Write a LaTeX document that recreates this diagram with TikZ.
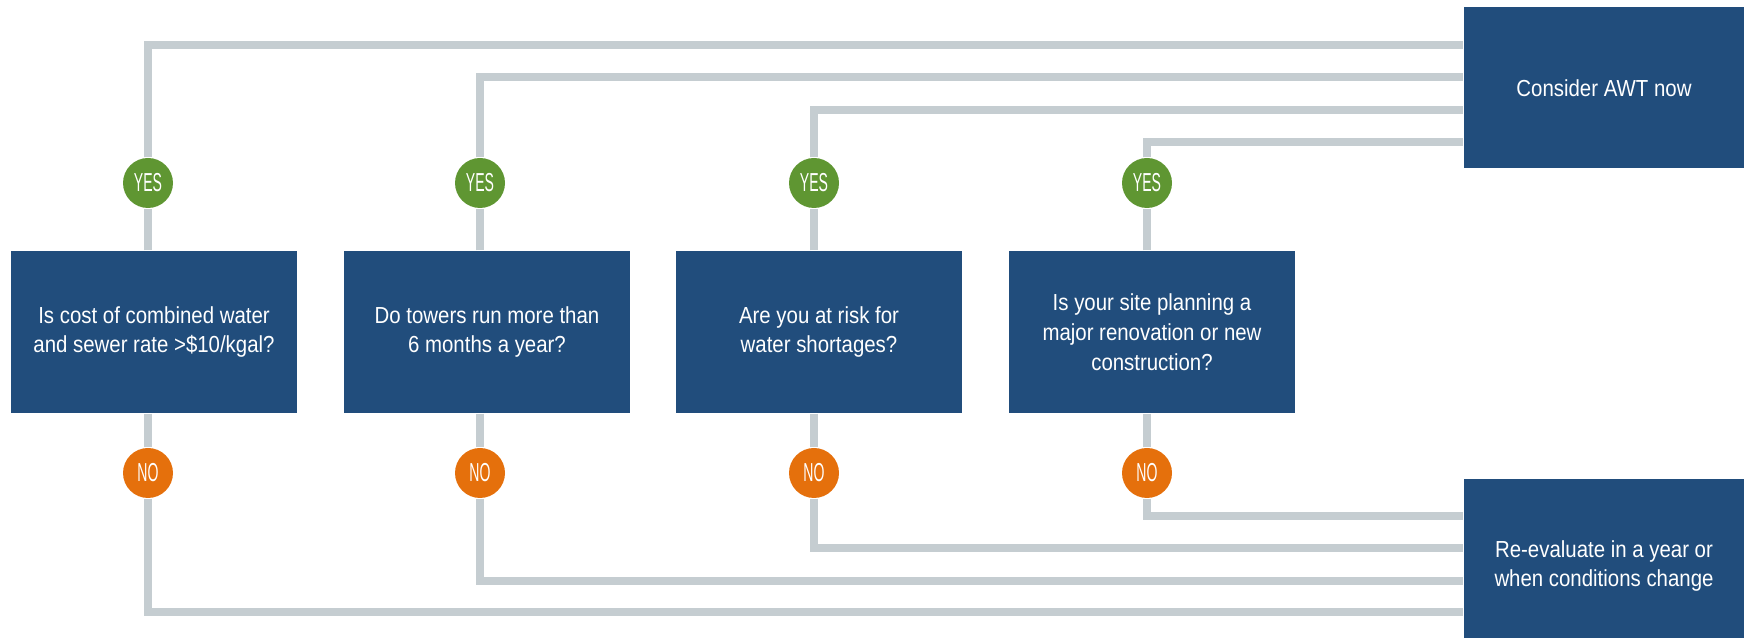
\documentclass[tikz,border=0pt]{standalone}
\usepackage{fontspec}
\setmainfont{Liberation Sans}[FakeStretch=0.88]
\newfontfamily\badgefont{Liberation Sans}[FakeStretch=0.54]
\usetikzlibrary{backgrounds}
\definecolor{boxblue}{RGB}{33,77,124}
\definecolor{linkgray}{RGB}{197,205,209}
\definecolor{yesgreen}{RGB}{95,150,50}
\definecolor{noorange}{RGB}{229,112,12}
\tikzset{
	qbox/.style={fill=boxblue, text=white, align=center, inner sep=0pt,
		minimum width=28.6mm, minimum height=16.2mm,
		font=\fontsize{6.6}{8.5}\selectfont},
	endbox/.style={qbox, minimum width=28mm, minimum height=16.1mm},
	yesdot/.style={circle, fill=yesgreen, text=white, inner sep=0pt,
		minimum size=5mm, font=\badgefont\fontsize{7.4}{8}\selectfont},
	nodot/.style={yesdot, fill=noorange},
	link/.style={draw=linkgray, line width=0.8mm}
}

\begin{document}
\begin{tikzpicture}[x=0.1mm, y=-0.1mm]
			%%%%% START %%%%%
			\useasboundingbox (0,0) rectangle (1744,638);
			
			\node[endbox] (awt) at (1604,88) {Consider AWT now};
			\node[endbox, minimum height=17.4mm] (reeval) at (1604,566) {Re-evaluate in a year or\\when conditions change};
			
			\node[qbox] (q1) at (154,332) {Is cost of combined water\\and sewer rate >\$10/kgal?};
			\node[qbox] (q2) at (487,332) {Do towers run more than\\6 months a year?};
			\node[qbox] (q3) at (819,332) {Are you at risk for\\water shortages?};
			\node[qbox] (q4) at (1152,332) {Is your site planning a\\major renovation or new\\construction?};
			
			\node[yesdot] (y1) at (148,183) {YES};
			\node[yesdot] (y2) at (480,183) {YES};
			\node[yesdot] (y3) at (814,183) {YES};
			\node[yesdot] (y4) at (1147,183) {YES};
			
			\node[nodot] (n1) at (148,473) {NO};
			\node[nodot] (n2) at (480,473) {NO};
			\node[nodot] (n3) at (814,473) {NO};
			\node[nodot] (n4) at (1147,473) {NO};
			
			% levels of the long runs
			\coordinate (t1) at (0,45);
			\coordinate (t2) at (0,77);
			\coordinate (t3) at (0,110);
			\coordinate (t4) at (0,142);
			\coordinate (b1) at (0,612);
			\coordinate (b2) at (0,581);
			\coordinate (b3) at (0,548);
			\coordinate (b4) at (0,516);
			
			\begin{scope}[on background layer]
			\draw[link] (y1 |- q1.north) -- (y1) |- (awt.west |- t1);
			\draw[link] (y2 |- q2.north) -- (y2) |- (awt.west |- t2);
			\draw[link] (y3 |- q3.north) -- (y3) |- (awt.west |- t3);
			\draw[link] (y4 |- q4.north) -- (y4) |- (awt.west |- t4);
			
			\draw[link] (n1 |- q1.south) -- (n1) |- (reeval.west |- b1);
			\draw[link] (n2 |- q2.south) -- (n2) |- (reeval.west |- b2);
			\draw[link] (n3 |- q3.south) -- (n3) |- (reeval.west |- b3);
			\draw[link] (n4 |- q4.south) -- (n4) |- (reeval.west |- b4);
			\end{scope}
			
			%%%%% END %%%%%
\end{tikzpicture}
\end{document}
